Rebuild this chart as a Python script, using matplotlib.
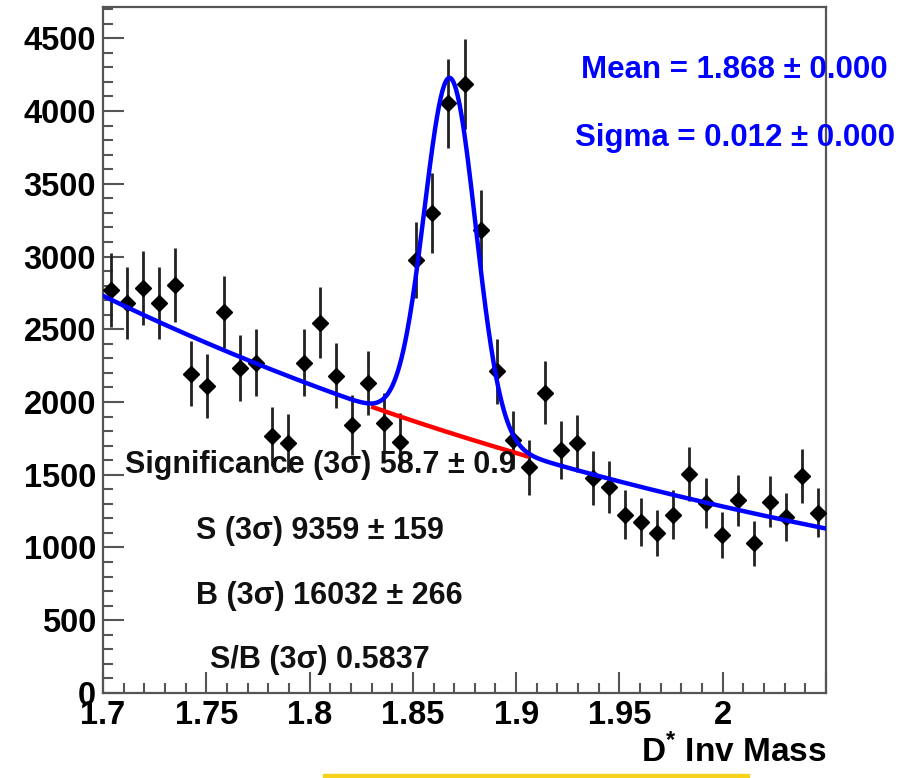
import numpy as np
import matplotlib
matplotlib.use("Agg")
import matplotlib.pyplot as plt
from matplotlib.patches import Rectangle
from matplotlib.ticker import MultipleLocator, FuncFormatter

plt.rcParams["font.family"] = ["Liberation Sans", "DejaVu Sans"]
plt.rcParams["mathtext.fontset"] = "custom"
plt.rcParams["mathtext.rm"] = "Liberation Sans"
plt.rcParams["mathtext.bf"] = "Liberation Sans:bold"

# histogram: 45 bins over 1.70 - 2.05
x_lo, x_hi = 1.70, 2.05
n_bins = 45
counts = [2770, 2680, 2785, 2680, 2805, 2195, 2110, 2620, 2235, 2270,
          1765, 1720, 2270, 2545, 2180, 1845, 2130, 1855, 1725, 2975,
          3300, 4055, 4185, 3185, 2210, 1740, 1550, 2065, 1670, 1715,
          1480, 1415, 1225, 1175, 1100, 1225, 1505, 1305, 1085, 1325,
          1030, 1315, 1210, 1490, 1240]
errors = [253, 248, 253, 248, 254, 225, 220, 246, 227, 229,
          202, 199, 229, 242, 224, 206, 222, 207, 199, 262,
          276, 306, 311, 271, 226, 200, 189, 218, 196, 199,
          185, 181, 168, 165, 159, 168, 186, 173, 158, 175,
          154, 174, 167, 185, 169]

# fit result: gaussian peak on an exponential background
mean = 1.868
sigma = 0.0124
peak_amp = 2440.0
bkg_at_lo = 2730.0
bkg_slope = 2.52

stat_lines = ["Significance (3σ) 58.7 ± 0.9",
              "S (3σ) 9359 ± 159",
              "B (3σ) 16032 ± 266",
              "S/B (3σ) 0.5837"]

edges = np.linspace(x_lo, x_hi, n_bins + 1)
centers = 0.5 * (edges[:-1] + edges[1:])


def background(x):
    return bkg_at_lo * np.exp(-bkg_slope * (x - x_lo))


def total(x):
    return background(x) + peak_amp * np.exp(-0.5 * ((x - mean) / sigma) ** 2)


def xtick_fmt(v, pos):
    # the last major tick sits on the frame edge and stays unlabelled
    if abs(v - x_hi) < 1e-9:
        return ""
    return f"{v:g}"


fig = plt.figure(figsize=(9.19, 7.78), dpi=100)
ax = fig.add_axes([0.1121, 0.1093, 0.7867, 0.8817])

ax.errorbar(centers, counts, yerr=errors, fmt="D", color="black", ms=8,
            ecolor="#222222", elinewidth=2, capsize=0, zorder=3)

xf = np.linspace(x_lo, x_hi, 800)
xs = np.linspace(mean - 3 * sigma, mean + 3 * sigma, 200)
ax.plot(xs, background(xs), color="#ff0000", lw=3.2, zorder=4)
ax.plot(xf, total(xf), color="#0000ff", lw=3.2, zorder=5)

ax.set_xlim(x_lo, x_hi)
ax.set_ylim(0, 4715)
ax.xaxis.set_major_locator(MultipleLocator(0.05))
ax.xaxis.set_minor_locator(MultipleLocator(0.01))
ax.yaxis.set_major_locator(MultipleLocator(500))
ax.yaxis.set_minor_locator(MultipleLocator(100))
ax.xaxis.set_major_formatter(FuncFormatter(xtick_fmt))

for s in ax.spines.values():
    s.set_color("#555555")
    s.set_linewidth(1.6)
ax.tick_params(which="both", direction="in", color="#555555", width=1.5,
               top=False, right=False)
ax.tick_params(which="major", length=15, labelsize=23.5, pad=5)
ax.tick_params(which="minor", length=7.5)
for lab in ax.get_xticklabels() + ax.get_yticklabels():
    lab.set_fontweight("bold")

ax.set_xlabel(r"D$^{\mathbf{*}}$ Inv Mass", fontsize=24, fontweight="bold",
              ha="right")
ax.xaxis.set_label_coords(1.0, -0.060)

ax.text(0.873, 0.908, f"Mean = {mean:.3f} ± 0.000", transform=ax.transAxes,
        ha="center", va="center", fontsize=22.5, fontweight="bold",
        color="#0000ff", zorder=6, clip_on=False)
ax.text(0.874, 0.809, f"Sigma = {sigma:.3f} ± 0.000", transform=ax.transAxes,
        ha="center", va="center", fontsize=22.5, fontweight="bold",
        color="#0000ff", zorder=6, clip_on=False)

stat_pos = [(0.300, 0.332), (0.300, 0.236), (0.3126, 0.141), (0.300, 0.048)]
for (tx, ty), line in zip(stat_pos, stat_lines):
    ax.text(tx, ty, line, transform=ax.transAxes, ha="center", va="center",
            fontsize=22, fontweight="bold", color="#111111", zorder=6)

fig.patches.append(Rectangle((323 / 919, 0), 426 / 919, 4 / 778,
                             transform=fig.transFigure, color="#f5d21c"))

fig.savefig("out.png", dpi=100)
